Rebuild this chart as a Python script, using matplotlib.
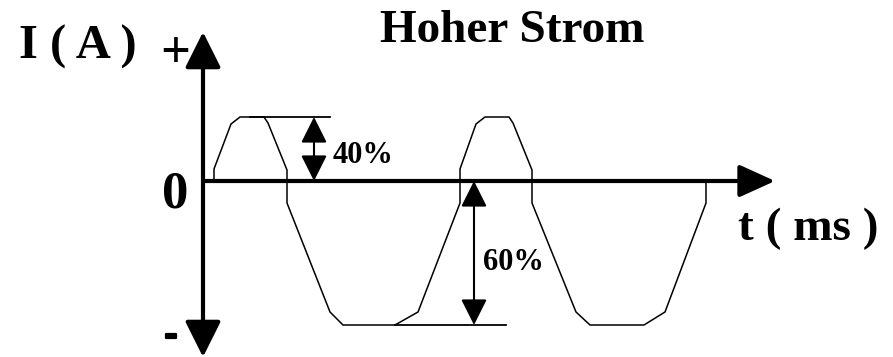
import matplotlib.pyplot as plt
import matplotlib.patheffects as pe

# waveform of the current (schematic units, t=0 / I=0 at the axis crossing)
t_wave = [11, 11, 28, 37, 61, 65, 84, 84, 127, 140, 192, 215, 257, 257, 273, 282,
          306, 310, 329, 329, 373, 387, 441, 462, 503, 503]
i_wave = [0, 12, 57, 64, 64, 58, 11, -22, -131, -144, -144, -131, -22, 12, 57, 64,
          64, 58, 11, -22, -131, -144, -144, -131, -22, 0]

i_top = 64      # positive peak (40%)
i_bottom = -144  # negative peak (60%)
t_dim40 = 111
t_dim60 = 271

title = "Hoher Strom"
ylabel = "I ( A )"
xlabel = "t ( ms )"
pct_labels = ["40%", "60%"]

fig = plt.figure(figsize=(8.93, 3.57), dpi=100)
ax = fig.add_axes([0, 0, 1, 1])
ax.set_xlim(-203, 690)
ax.set_ylim(-176, 181)
ax.axis("off")

font = dict(family="Liberation Serif", weight="bold", color="black")

# axes with arrow heads
ax.annotate("", xy=(0, 149), xytext=(0, -176),
            arrowprops=dict(arrowstyle="<|-|>,head_length=22,head_width=11",
                            lw=3, color="black", shrinkA=0, shrinkB=0, mutation_scale=1))
ax.annotate("", xy=(572, 0), xytext=(0, 0),
            arrowprops=dict(arrowstyle="-|>,head_length=22,head_width=10",
                            lw=3, color="black", shrinkA=0, shrinkB=0, mutation_scale=1))

# waveform
ax.plot(t_wave, i_wave, color="black", lw=1.1, solid_joinstyle="miter")

# reference lines for peaks
ax.plot([47, 127], [i_top, i_top], color="black", lw=1.3)
ax.plot([192, 303], [i_bottom, i_bottom], color="black", lw=1.3)

# dimension arrows
ax.annotate("", xy=(t_dim40, i_top), xytext=(t_dim40, 0),
            arrowprops=dict(arrowstyle="<|-|>,head_length=16,head_width=8",
                            lw=1.5, color="black", shrinkA=0, shrinkB=0, mutation_scale=1))
ax.annotate("", xy=(t_dim60, 0), xytext=(t_dim60, i_bottom),
            arrowprops=dict(arrowstyle="<|-|>,head_length=16,head_width=8",
                            lw=1.5, color="black", shrinkA=0, shrinkB=0, mutation_scale=1))

ax.text(130, 18, pct_labels[0], fontsize=22, ha="left", va="baseline", **font)
ax.text(280, -89, pct_labels[1], fontsize=22, ha="left", va="baseline", **font)

ax.text(309, 139, title, fontsize=34, ha="center", va="baseline", **font)
ax.text(-184, 122, ylabel, fontsize=35, ha="left", va="baseline", **font)
ax.text(-28, 127, "+", fontsize=38, ha="center", va="center", **font)
ax.text(535, -59, xlabel, fontsize=34, ha="left", va="baseline", **font)
ax.text(-28, -26, "0", fontsize=38, ha="center", va="baseline", **font)
ax.text(-32, -155, "-", fontsize=30, ha="center", va="center", **font,
        path_effects=[pe.withStroke(linewidth=1.6, foreground="black")])

fig.savefig("out.png", dpi=100)
